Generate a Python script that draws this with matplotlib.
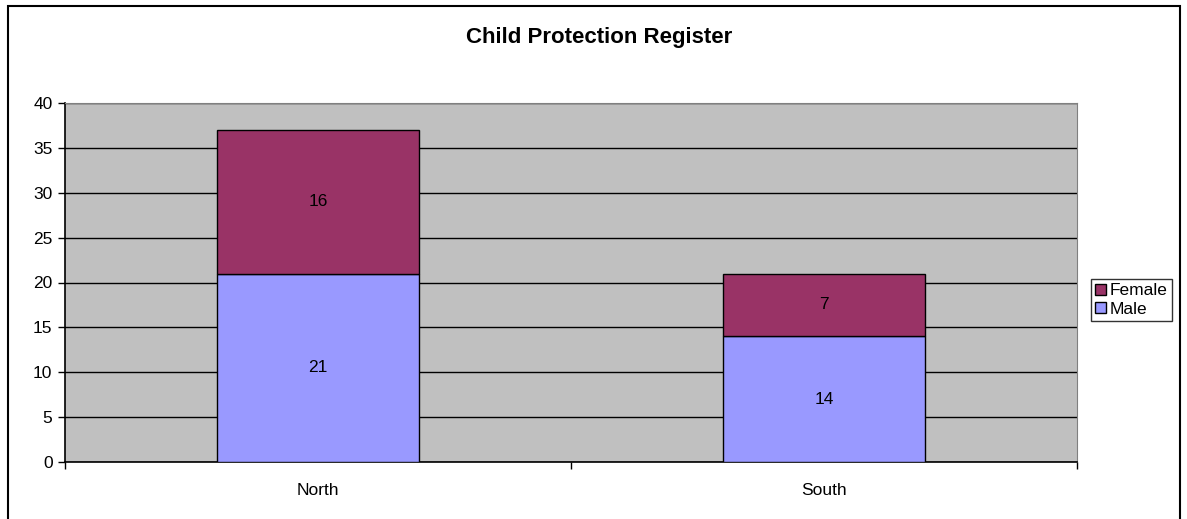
import matplotlib.pyplot as plt
from matplotlib.patches import Patch, Rectangle

plt.rcParams['font.family'] = ['Liberation Sans', 'DejaVu Sans']

regions = ["North", "South"]
male = [21, 14]
female = [16, 7]


def main():
    fig = plt.figure(figsize=(11.87, 5.19), dpi=100)
    fig.patch.set_facecolor("white")
    # outer chart border (cut at bottom, like the reference)
    fig.patches.append(Rectangle((8 / 1187, -0.05), (1180 - 8) / 1187, 1.05 - 6 / 519,
                                 transform=fig.transFigure, fill=False,
                                 edgecolor="black", linewidth=1.5, zorder=0))

    ax = fig.add_axes([65 / 1187, 57 / 519, (1077 - 65) / 1187, (462 - 103) / 519])
    ax.set_facecolor("#C0C0C0")

    x = range(len(regions))
    ax.bar(x, male, width=0.4, color="#9999FF", edgecolor="black", linewidth=1, zorder=3)
    ax.bar(x, female, width=0.4, bottom=male, color="#993366", edgecolor="black",
           linewidth=1, zorder=3)

    for i in x:
        ax.text(i, male[i] / 2, str(male[i]), ha="center", va="center", fontsize=12.5, zorder=4)
        ax.text(i, male[i] + female[i] / 2, str(female[i]), ha="center", va="center",
                fontsize=12.5, zorder=4)

    ax.set_xlim(-0.5, len(regions) - 0.5)
    ax.set_ylim(0, 40)
    ax.set_yticks(range(0, 41, 5))
    ax.yaxis.grid(True, color="black", linewidth=1, zorder=1)
    ax.set_axisbelow(True)

    ax.set_xticks(list(x))
    ax.set_xticklabels(regions)
    ax.set_xticks([-0.5, 0.5, 1.5], minor=True)
    ax.tick_params(axis="x", which="major", length=0, pad=15, labelsize=12.5)
    ax.tick_params(axis="x", which="minor", length=5, width=1, direction="out")
    ax.tick_params(axis="y", length=5, width=1, direction="out", labelsize=12.5, pad=4)

    ax.spines["left"].set_color("black")
    ax.spines["bottom"].set_color("black")
    ax.spines["left"].set_linewidth(1.2)
    ax.spines["bottom"].set_linewidth(1.2)
    ax.spines["top"].set_color("#808080")
    ax.spines["right"].set_color("#808080")

    fig.text(599 / 1187, 1 - 38 / 519, "Child Protection Register", ha="center",
             va="center", fontsize=16, fontweight="bold")

    handles = [Patch(facecolor="#993366", edgecolor="black", label="Female"),
               Patch(facecolor="#9999FF", edgecolor="black", label="Male")]
    leg = fig.legend(handles=handles, loc="center left",
                     bbox_to_anchor=(1091 / 1187, 1 - 300 / 519),
                     frameon=True, fancybox=False, fontsize=12.5, handlelength=0.6,
                     handleheight=0.6, handletextpad=0.25, borderpad=0.25,
                     labelspacing=0.2, borderaxespad=0)
    leg.get_frame().set_edgecolor("black")
    leg.get_frame().set_linewidth(1)

    fig.savefig("out.png", dpi=100)


if __name__ == "__main__":
    main()
